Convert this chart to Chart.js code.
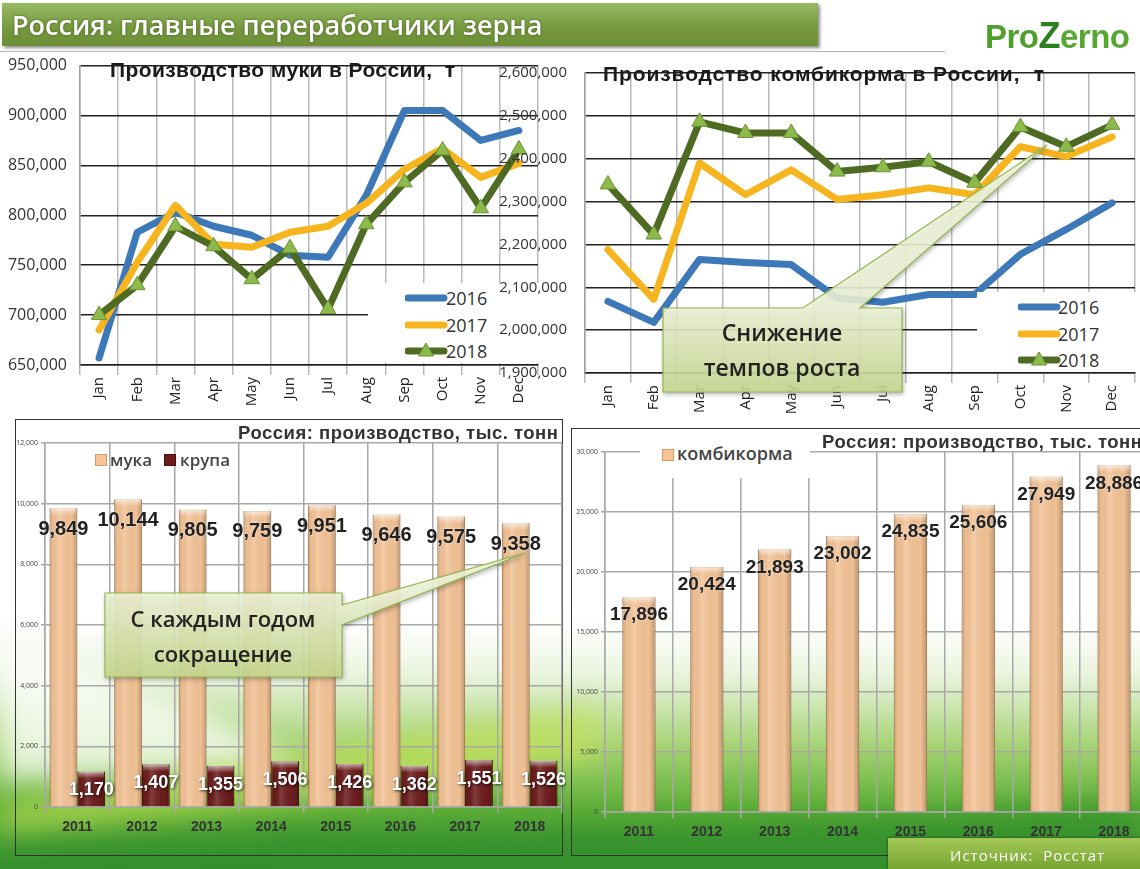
<!DOCTYPE html>
<html lang="ru">
<head>
<meta charset="UTF-8">
<title>Россия: главные переработчики зерна</title>
<script src="https://cdn.jsdelivr.net/npm/chart.js@4.4.1/dist/chart.umd.min.js"></script>
<style>
  html, body { margin: 0; padding: 0; }
  body { width: 1140px; height: 869px; overflow: hidden; position: relative; background: #fff; font-family: "Open Sans", sans-serif; }
  canvas, .abs { position: absolute; }
  .frame { position: absolute; box-sizing: border-box; border: 1.5px solid #333; }
  .title { position: absolute; font-family: "Liberation Sans", Arial, sans-serif; font-weight: bold; white-space: pre; line-height: 1; color: #1a1a1a; }
  .legend { position: absolute; }
  .legend .item { position: absolute; height: 20px; }
  .legend span { position: absolute; font-size: 18px; line-height: 20px; color: #333; }
  .sq { position: absolute; width: 10px; height: 10px; }
  .lt { position: absolute; font-weight: 600; color: #444; line-height: 1; }
  #header { left: 2px; top: 3px; width: 816px; height: 43px; background: linear-gradient(#95ba62, #76993f 60%, #6c8f37); box-shadow: 2px 2px 3px rgba(0,0,0,0.45); }
  #header div { position: absolute; left: 10px; top: 0; line-height: 43px; font-size: 27px; font-weight: 600; color: #fff; text-shadow: 0 0 3px rgba(60,80,20,0.8); white-space: nowrap; }
  #logo { left: 985px; top: 18px; font-family: "Liberation Sans", Arial, sans-serif; font-weight: bold; font-size: 33px; line-height: 1; white-space: nowrap; letter-spacing: -0.5px; }
  #footer { left: 888px; top: 838px; width: 260px; height: 31px; background: linear-gradient(#a4c857, #76a532); box-shadow: -1px -1px 2px rgba(0,0,0,0.3); }
  #footer div { position: absolute; left: 62px; top: 7px; font-size: 15px; color: #fff; letter-spacing: 1px; white-space: pre; }
</style>
</head>
<body>
<canvas id="bg" width="1140" height="869" style="left:0;top:0"></canvas>

<div class="abs" id="header"><div>Россия: главные переработчики зерна</div></div>
<div class="abs" style="left:0;top:51px;width:945px;height:1px;background:#b4b4b4"></div>
<div class="abs" id="logo"><span style="color:#4f9f2c">Pro</span><span style="color:#2d7f1f;font-size:36px">Z</span><span style="color:#56a831">erno</span></div>

<div class="frame" style="left:15px;top:419px;width:548px;height:437px"></div>
<div class="frame" style="left:571px;top:428px;width:600px;height:428px"></div>

<canvas id="flourMonthly" width="548" height="372" style="left:0;top:43px"></canvas>
<div class="legend" id="legFlour" style="left:368px;top:283px;width:177px;height:80px;background:#fff"></div>
<canvas id="feedMonthly" width="650" height="382" style="left:495px;top:46px"></canvas>
<div class="legend" id="legFeed" style="left:977px;top:292px;width:170px;height:80px;background:#fff"></div>
<canvas id="flourAnnualChart" width="566" height="420" style="left:0;top:425px"></canvas>
<canvas id="feedAnnualChart" width="592" height="420" style="left:560px;top:430px"></canvas>

<div class="title" style="left:110px;top:59px;font-size:21px;letter-spacing:0.4px">Производство муки в России,  т</div>
<div class="title" style="left:603px;top:63px;font-size:21px;letter-spacing:0.9px">Производство комбикорма в России,  т</div>
<div class="title" style="left:238px;top:424px;font-size:18.5px;letter-spacing:0.5px;color:#333">Россия: производство, тыс. тонн</div>
<div class="title" style="left:822px;top:433px;font-size:18.5px;letter-spacing:0.5px;color:#333">Россия: производство, тыс. тонн</div>

<div class="abs" style="left:95px;top:451px">
  <div class="sq" style="left:0;top:3px;background:#f5c497;border:1px solid #d99a63"></div>
  <div class="lt" style="left:15px;top:0;font-size:17px">мука</div>
  <div class="sq" style="left:69px;top:3px;background:#6e1d1d;border:1px solid #4a1010"></div>
  <div class="lt" style="left:85px;top:0;font-size:17px">крупа</div>
</div>
<div class="abs" style="left:640px;top:440px;width:170px;height:38px;background:#fff">
  <div class="sq" style="left:22px;top:9px;background:#f5c497;border:1px solid #d99a63"></div>
  <div class="lt" style="left:37px;top:4px;font-size:18px">комбикорма</div>
</div>

<svg class="abs" width="1140" height="869" style="left:0;top:0;pointer-events:none">
  <defs>
    <linearGradient id="cg1" gradientUnits="userSpaceOnUse" x1="0" y1="308" x2="0" y2="392">
      <stop offset="0" stop-color="#eef4d8"/><stop offset="1" stop-color="#c8d98f"/>
    </linearGradient>
    <linearGradient id="cg2" gradientUnits="userSpaceOnUse" x1="0" y1="593" x2="0" y2="677">
      <stop offset="0" stop-color="#eef4d8"/><stop offset="1" stop-color="#c8d98f"/>
    </linearGradient>
  </defs>
  <g style="filter:drop-shadow(1px 2px 2px rgba(0,0,0,0.3))">
    <path d="M663,308 L803,308 L1047,145 L860,308 L902,308 L902,392 L663,392 Z" fill="url(#cg1)" fill-opacity="0.88" stroke="#93b451" stroke-width="1.2"/>
    <path d="M105,593 L342,593 L342,605 L525,553 L342,625 L342,677 L105,677 Z" fill="url(#cg2)" fill-opacity="0.9" stroke="#93b451" stroke-width="1.2"/>
  </g>
  <g font-family="Open Sans" font-weight="600" fill="#222" text-anchor="middle">
    <text x="782" y="341" font-size="23">Снижение</text>
    <text x="782" y="376" font-size="23">темпов роста</text>
    <text x="223" y="627" font-size="22">С каждым годом</text>
    <text x="223" y="662" font-size="22">сокращение</text>
  </g>
</svg>

<div class="abs" id="footer"><div>Источник:  Росстат</div></div>

<script>
// monthly data, t
const months = ['Jan', 'Feb', 'Mar', 'Apr', 'May', 'Jun', 'Jul', 'Aug', 'Sep', 'Oct', 'Nov', 'Dec'];
const years = ['2016', '2017', '2018'];
const flour2016 = [657000, 783000, 803000, 789000, 780000, 760000, 758000, 820000, 905000, 905000, 875000, 885000];
const flour2017 = [685000, 753000, 810000, 771000, 768000, 783000, 789000, 812000, 846000, 867000, 838000, 852000];
const flour2018 = [700000, 730000, 789000, 769000, 736000, 767000, 706000, 791000, 833000, 865000, 807000, 866000];
const feed2016 = [2067000, 2018000, 2165000, 2158000, 2153000, 2075000, 2065000, 2083000, 2083000, 2177000, 2235000, 2297000];
const feed2017 = [2188000, 2072000, 2390000, 2316000, 2374000, 2305000, 2316000, 2332000, 2316000, 2428000, 2405000, 2451000];
const feed2018 = [2340000, 2223000, 2486000, 2460000, 2460000, 2370000, 2380000, 2393000, 2344000, 2474000, 2428000, 2479000];

// annual data, thousand t
const barYears = ['2011', '2012', '2013', '2014', '2015', '2016', '2017', '2018'];
const flourAnnual = [9849, 10144, 9805, 9759, 9951, 9646, 9575, 9358];
const groatsAnnual = [1170, 1407, 1355, 1506, 1426, 1362, 1551, 1526];
const feedAnnual = [17896, 20424, 21893, 23002, 24835, 25606, 27949, 28886];

const lineColors = ['#3d78b8', '#f6b51e', '#4e6a23'];
const markerFill = '#8cba4b';
const markerEdge = '#6b9236';

Chart.defaults.animation = false;
Chart.defaults.font.family = '"Open Sans", sans-serif';
Chart.defaults.color = '#222';
Chart.defaults.plugins.legend.display = false;
Chart.defaults.plugins.tooltip.enabled = false;

// background landscape
(function () {
  const c = document.getElementById('bg').getContext('2d');
  c.fillStyle = '#fff';
  c.fillRect(0, 0, 1140, 869);
  const g = c.createLinearGradient(0, 600, 0, 869);
  g.addColorStop(0, 'rgba(255,255,255,0)');
  g.addColorStop(0.3, '#e4f1d6');
  g.addColorStop(0.55, '#a3d271');
  g.addColorStop(0.78, '#5dae37');
  g.addColorStop(1, '#3a9430');
  c.fillStyle = g;
  c.fillRect(0, 600, 1140, 269);
  c.save();
  c.filter = 'blur(14px)';
  c.fillStyle = 'rgba(255,255,255,0.75)';
  c.beginPath();
  c.moveTo(0, 640); c.bezierCurveTo(150, 690, 260, 730, 300, 770); c.lineTo(0, 780); c.closePath();
  c.fill();
  c.fillStyle = 'rgba(196,226,86,0.65)';
  c.beginPath();
  c.moveTo(0, 805); c.bezierCurveTo(200, 775, 400, 735, 600, 705);
  c.lineTo(600, 760); c.bezierCurveTo(400, 790, 200, 815, 0, 835); c.closePath();
  c.fill();
  c.fillStyle = 'rgba(40,135,40,0.55)';
  c.beginPath();
  c.moveTo(0, 845); c.bezierCurveTo(300, 825, 700, 835, 1140, 800);
  c.lineTo(1140, 869); c.lineTo(0, 869); c.closePath();
  c.fill();
  c.restore();
})();

function makeLine(id, series, cfg) {
  return new Chart(document.getElementById(id), {
    type: 'line',
    data: {
      labels: months,
      datasets: series.map((vals, i) => ({
        label: years[i],
        data: vals,
        order: 2 - i,
        borderColor: lineColors[i],
        backgroundColor: lineColors[i],
        borderWidth: 7,
        borderJoinStyle: 'round',
        borderCapStyle: 'round',
        tension: 0,
        pointStyle: i === 2 ? 'triangle' : 'circle',
        pointRadius: i === 2 ? 9 : 0,
        pointBackgroundColor: markerFill,
        pointBorderColor: markerEdge,
        pointBorderWidth: 1
      }))
    },
    options: {
      responsive: false,
      layout: { padding: cfg.padding },
      scales: {
        x: {
          offset: true,
          grid: { offset: true, color: '#b9b9b9', lineWidth: 1.5, tickLength: 10 },
          border: { color: '#222', width: 1.5 },
          ticks: { minRotation: 90, maxRotation: 90, autoSkip: false, padding: 2, font: { size: 15 }, color: '#222' },
          afterFit: s => { s.height = cfg.xHeight; }
        },
        y: {
          min: cfg.min, max: cfg.max,
          grid: { color: '#222', lineWidth: 1.5, drawTicks: false },
          border: { color: '#a0a0a0', width: 1.5 },
          ticks: { stepSize: cfg.step, padding: cfg.tickPad, font: { size: cfg.tickSize }, color: '#333' },
          afterFit: s => { s.width = cfg.yWidth; }
        }
      }
    }
  });
}

// plot top sits below the canvas top by half a tick label plus tick padding
makeLine('flourMonthly', [flour2016, flour2017, flour2018],
  { min: 650000, max: 950000, step: 50000, yWidth: 80, xHeight: 50, tickPad: 13, tickSize: 16, padding: { top: 0, right: 6 } });
makeLine('feedMonthly', [feed2016, feed2017, feed2018],
  { min: 1900000, max: 2600000, step: 100000, yWidth: 90, xHeight: 55, tickPad: 18, tickSize: 15, padding: { top: 0, right: 4 } });

// html legends for the line charts
function buildLegend(id, swatchLeft, textLeft) {
  const box = document.getElementById(id);
  years.forEach((y, i) => {
    const item = document.createElement('div');
    item.className = 'item';
    item.style.left = '0px';
    item.style.top = (5 + i * 26.5) + 'px';
    let svg = '<svg width="44" height="20" style="position:absolute;left:' + swatchLeft + 'px;top:0">' +
      '<line x1="3" y1="10" x2="39" y2="10" stroke="' + lineColors[i] + '" stroke-width="7" stroke-linecap="round"/>';
    if (i === 2) svg += '<polygon points="21,2 28.5,15 13.5,15" fill="' + markerFill + '" stroke="' + markerEdge + '" stroke-width="1"/>';
    svg += '</svg>';
    item.innerHTML = svg + '<span style="left:' + textLeft + 'px;top:0">' + y + '</span>';
    box.appendChild(item);
  });
}
buildLegend('legFlour', 37, 78);
buildLegend('legFeed', 41, 81);

// bar shading and value labels
const barDecor = {
  id: 'barDecor',
  afterDatasetsDraw(chart) {
    const ctx = chart.ctx;
    const metas = chart.data.datasets.map((ds, di) => chart.getDatasetMeta(di));
    metas.forEach(meta => {
      meta.data.forEach(bar => {
        const { x, y, base, width } = bar.getProps(['x', 'y', 'base', 'width'], true);
        const l = x - width / 2;
        const g = ctx.createLinearGradient(l, 0, l + width, 0);
        g.addColorStop(0, 'rgba(0,0,0,0.2)');
        g.addColorStop(0.12, 'rgba(0,0,0,0.03)');
        g.addColorStop(0.35, 'rgba(255,255,255,0.14)');
        g.addColorStop(0.8, 'rgba(0,0,0,0.02)');
        g.addColorStop(1, 'rgba(0,0,0,0.24)');
        ctx.save();
        ctx.fillStyle = g;
        ctx.fillRect(l, y, width, base - y);
        const t = ctx.createLinearGradient(0, y, 0, y + 7);
        t.addColorStop(0, 'rgba(255,255,255,0.6)');
        t.addColorStop(1, 'rgba(255,255,255,0)');
        ctx.fillStyle = t;
        ctx.fillRect(l + 1, y, width - 2, 7);
        ctx.restore();
      });
    });
    chart.data.datasets.forEach((ds, di) => {
      metas[di].data.forEach((bar, i) => {
        const { x, y } = bar.getProps(['x', 'y'], true);
        ctx.save();
        ctx.font = ds.labelFont;
        ctx.fillStyle = ds.labelColor;
        ctx.textAlign = 'center';
        ctx.textBaseline = 'middle';
        if (ds.labelShadow) {
          ctx.shadowColor = 'rgba(0,0,0,0.75)';
          ctx.shadowBlur = 3;
          ctx.shadowOffsetX = 1;
          ctx.shadowOffsetY = 1;
        } else {
          ctx.shadowColor = 'rgba(255,255,255,0.8)';
          ctx.shadowBlur = 2;
        }
        ctx.fillText(ds.data[i].toLocaleString('en-US'), x, y + ds.labelDy);
        ctx.restore();
      });
    });
  }
};

function barScales(max, step) {
  return {
    x: {
      grid: { color: '#a8a8a8', lineWidth: 1.5, tickLength: 6 },
      border: { color: '#a8a8a8', width: 1.5 },
      ticks: { padding: 6, color: '#333', font: { family: '"Liberation Sans", Arial, sans-serif', weight: 'bold', size: 14 } },
      afterFit: s => { s.height = 38; }
    },
    y: {
      min: 0, max: max,
      grid: { color: '#a8a8a8', lineWidth: 1.5, tickLength: 4 },
      border: { color: '#a8a8a8', width: 1.5 },
      ticks: { stepSize: step, padding: 3, color: '#444', font: { size: 7 } },
      afterFit: s => { s.width = 45; }
    }
  };
}

new Chart(document.getElementById('flourAnnualChart'), {
  type: 'bar',
  data: {
    labels: barYears,
    datasets: [
      { label: 'мука', data: flourAnnual, backgroundColor: '#f5c497', borderColor: '#dc9d67', borderWidth: 1,
        categoryPercentage: 0.86, barPercentage: 1, labelFont: 'bold 20px "Liberation Sans", Arial', labelColor: '#222', labelDy: 21 },
      { label: 'крупа', data: groatsAnnual, backgroundColor: '#6e1d1d', borderColor: '#4a1010', borderWidth: 1,
        categoryPercentage: 0.86, barPercentage: 1, labelFont: 'bold 18px "Liberation Sans", Arial', labelColor: '#fff', labelDy: 19, labelShadow: true }
    ]
  },
  options: {
    responsive: false,
    layout: { padding: { top: 18, right: 4 } },
    scales: barScales(12000, 2000)
  },
  plugins: [barDecor]
});

new Chart(document.getElementById('feedAnnualChart'), {
  type: 'bar',
  data: {
    labels: barYears,
    datasets: [
      { label: 'комбикорма', data: feedAnnual, backgroundColor: '#f5c497', borderColor: '#dc9d67', borderWidth: 1,
        categoryPercentage: 1, barPercentage: 0.49, labelFont: 'bold 19px "Liberation Sans", Arial', labelColor: '#222', labelDy: 18 }
    ]
  },
  options: {
    responsive: false,
    layout: { padding: { top: 22, right: 4 } },
    scales: barScales(30000, 5000)
  },
  plugins: [barDecor]
});
</script>
</body>
</html>
